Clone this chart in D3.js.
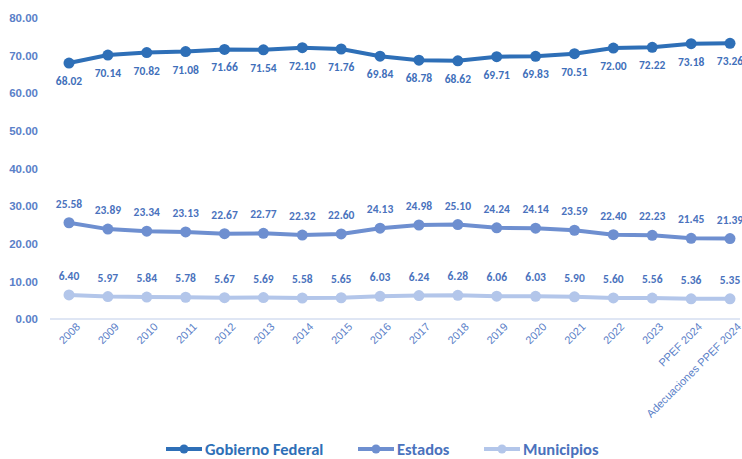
<!DOCTYPE html>
<html>
<head>
<meta charset="utf-8">
<script src="https://cdn.jsdelivr.net/npm/d3@7"></script>
<style>
  body { margin: 0; background: #fff; }
  svg { font-family: Calibri, Carlito, "Open Sans", sans-serif; }
</style>
</head>
<body>
<div id="chart"></div>
<script>
// categories
var years = ["2008", "2009", "2010", "2011", "2012", "2013", "2014", "2015", "2016",
  "2017", "2018", "2019", "2020", "2021", "2022", "2023", "PPEF 2024", "Adecuaciones PPEF 2024"];

// series values
var federal = [68.02, 70.14, 70.82, 71.08, 71.66, 71.54, 72.10, 71.76, 69.84, 68.78,
  68.62, 69.71, 69.83, 70.51, 72.00, 72.22, 73.18, 73.26];
var estados = [25.58, 23.89, 23.34, 23.13, 22.67, 22.77, 22.32, 22.60, 24.13, 24.98,
  25.10, 24.24, 24.14, 23.59, 22.40, 22.23, 21.45, 21.39];
var municipios = [6.40, 5.97, 5.84, 5.78, 5.67, 5.69, 5.58, 5.65, 6.03, 6.24,
  6.28, 6.06, 6.03, 5.90, 5.60, 5.56, 5.36, 5.35];

var yTicks = [0, 10, 20, 30, 40, 50, 60, 70, 80];
var seriesNames = ["Gobierno Federal", "Estados", "Municipios"];

var svgWidth = 742, svgHeight = 459;
var margin = { top: 18, right: 12, bottom: 140, left: 50 };
var width = svgWidth - margin.left - margin.right;
var height = svgHeight - margin.top - margin.bottom;

var svg = d3.select("#chart").append("svg")
  .attr("width", svgWidth)
  .attr("height", svgHeight);

var g = svg.append("g")
  .attr("transform", `translate(${margin.left}, ${margin.top})`);

var xScale = d3.scalePoint()
  .domain(years)
  .range([19, width])
  .padding(0);

var yScale = d3.scaleLinear()
  .domain([0, 80])
  .range([height, 0]);

var tickColor = "#5a80c8";

// y axis labels, no axis line
var yAxis = d3.axisLeft(yScale)
  .tickValues(yTicks)
  .tickFormat(d3.format(".2f"))
  .tickSize(0)
  .tickPadding(12);

var yG = g.append("g").call(yAxis);
yG.select(".domain").remove();
yG.selectAll("text")
  .style("font-size", "11.5px")
  .style("font-weight", "600")
  .attr("fill", tickColor);

// x axis
var xAxis = d3.axisBottom(xScale).tickSize(0).tickPadding(6);
var xG = g.append("g")
  .attr("transform", `translate(0, ${height})`)
  .call(xAxis);
xG.select(".domain")
  .attr("stroke", "#d4def0")
  .attr("stroke-width", 1.5)
  .attr("d", `M0,0H${width + 10}`);
xG.selectAll("text")
  .attr("fill", tickColor)
  .style("font-size", "11px")
  .style("text-anchor", "end")
  .attr("dx", "2")
  .attr("dy", "8")
  .attr("transform", "rotate(-45)");

var series = [
  { name: seriesNames[0], values: federal, color: "#2e6fb7", labelDy: 22, labelColor: "#3f6fba" },
  { name: seriesNames[1], values: estados, color: "#6e8fd0", labelDy: -15, labelColor: "#4a72bd" },
  { name: seriesNames[2], values: municipios, color: "#b3c6ea", labelDy: -15, labelColor: "#4a72bd" }
];

var line = d3.line()
  .x((d, i) => xScale(years[i]))
  .y(d => yScale(d));

series.forEach(s => {
  g.append("path")
    .datum(s.values)
    .attr("fill", "none")
    .attr("stroke", s.color)
    .attr("stroke-width", 4)
    .attr("d", line);

  g.selectAll(null)
    .data(s.values)
    .enter()
    .append("circle")
    .attr("cx", (d, i) => xScale(years[i]))
    .attr("cy", d => yScale(d))
    .attr("r", 5.5)
    .attr("fill", s.color);

  g.selectAll(null)
    .data(s.values)
    .enter()
    .append("text")
    .attr("x", (d, i) => xScale(years[i]))
    .attr("y", d => yScale(d) + s.labelDy)
    .attr("text-anchor", "middle")
    .attr("fill", s.labelColor)
    .style("font-size", "11.5px")
    .style("font-weight", "600")
    .text(d => d.toFixed(2));
});

// legend
var legendX = [166, 358, 484];
var legend = svg.append("g").attr("transform", "translate(0, 449)");
series.forEach((s, i) => {
  var lg = legend.append("g").attr("transform", `translate(${legendX[i]}, 0)`);
  lg.append("line")
    .attr("x1", 0).attr("x2", 36)
    .attr("y1", 0).attr("y2", 0)
    .attr("stroke", s.color)
    .attr("stroke-width", 4);
  lg.append("circle")
    .attr("cx", 18).attr("cy", 0).attr("r", 4.5)
    .attr("fill", s.color);
  lg.append("text")
    .attr("x", 39)
    .attr("y", 5.5)
    .attr("fill", i === 0 ? "#2e6fb7" : "#4a72bd")
    .style("font-size", "16.5px")
    .style("font-weight", "bold")
    .text(s.name);
});
</script>
</body>
</html>
